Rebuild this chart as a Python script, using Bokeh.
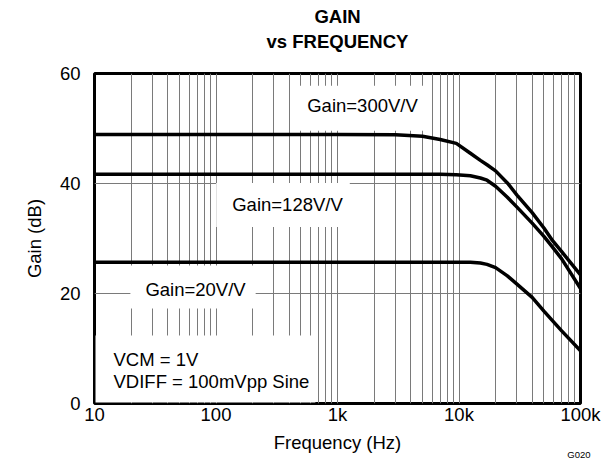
from bokeh.plotting import figure
from bokeh.models import FixedTicker, Label, Title, LogAxis
from bokeh.embed import file_html
from bokeh.resources import INLINE

# ---- data ----
freq_hz = [10, 100, 1000, 3000, 5000, 7000, 9500, 12400, 15000, 17000, 20000,
           25000, 30000, 40000, 50000, 58000, 70000, 100000]
gain_300 = [48.9, 48.9, 48.9, 48.85, 48.6, 48.0, 47.3, 45.5, 44.2, 43.4, 42.3,
            40.1, 37.9, 34.7, 31.9, 29.8, 27.6, 23.4]
gain_128 = [41.7, 41.7, 41.7, 41.7, 41.7, 41.7, 41.6, 41.4, 41.0, 40.6, 39.5,
            37.5, 35.7, 32.8, 30.4, 28.6, 26.3, 20.9]
gain_20 = [25.7, 25.7, 25.7, 25.7, 25.7, 25.7, 25.7, 25.7, 25.55, 25.3, 24.7,
           23.2, 21.7, 19.3, 16.8, 15.2, 13.2, 9.6]

x_ticks = [10, 100, 1000, 10000, 100000]
x_tick_labels = ["10", "100", "1k", "10k", "100k"]
x_minor = [m * 10 ** d for d in range(1, 5) for m in range(2, 10)]
y_ticks = [0, 20, 40, 60]

FONT = "Liberation Sans"
FS = "18.5px"
GRID = "#7a7a7a"

p = figure(width=613, height=459, x_axis_type="log",
           x_range=(10, 100000), y_range=(0, 60),
           output_backend="svg", toolbar_location=None, title=None,
           min_border_left=94, min_border_right=33,
           min_border_top=73, min_border_bottom=56)

p.background_fill_color = "white"
p.border_fill_color = "white"
p.outline_line_color = "black"
p.outline_line_width = 3

xa = p.xaxis[0]
ya = p.yaxis[0]

# axes
xt = FixedTicker(ticks=x_ticks, minor_ticks=x_minor)
xa.ticker = xt
p.xgrid.ticker = xt
xa.major_label_overrides = {t: l for t, l in zip(x_ticks, x_tick_labels)}
yt = FixedTicker(ticks=y_ticks)
ya.ticker = yt
p.ygrid.ticker = yt

def style_axis(ax):
    ax.axis_line_color = None
    ax.major_tick_line_color = None
    ax.minor_tick_line_color = None
    ax.major_tick_out = 0
    ax.major_tick_in = 0
    ax.minor_tick_out = 0
    ax.minor_tick_in = 0
    ax.major_label_text_font = FONT
    ax.major_label_text_font_size = FS
    ax.major_label_text_color = "black"
    ax.axis_label_text_font = FONT
    ax.axis_label_text_font_size = FS
    ax.axis_label_text_font_style = "normal"
    ax.axis_label_text_color = "black"

style_axis(xa)
style_axis(ya)

xa.axis_label = "Frequency (Hz)"
ya.axis_label = "Gain (dB)"
xa.major_label_standoff = 0
ya.major_label_standoff = 14
xa.axis_label_standoff = 4
ya.axis_label_standoff = 12

p.xgrid.grid_line_color = GRID
p.xgrid.minor_grid_line_color = GRID
p.xgrid.grid_line_width = 1
p.xgrid.minor_grid_line_width = 1
p.ygrid.grid_line_color = GRID
p.ygrid.grid_line_width = 1

# two-line chart title: second line as the label of a tick-less top axis,
# first line as a title above it
top = LogAxis(ticker=FixedTicker(ticks=[]), axis_label="vs FREQUENCY")
style_axis(top)
top.major_label_standoff = 0
top.axis_label_standoff = 22
top.axis_label_text_font_style = "bold"
p.add_layout(top, "above")

p.add_layout(Title(text="GAIN", align="center", text_font=FONT,
                   text_font_size=FS, text_font_style="bold",
                   text_color="black", standoff=1), "above")

# curves
for g in (gain_300, gain_128, gain_20):
    p.line(freq_hz, g, line_color="black", line_width=3.5)

# labels with white boxes (anchor refers to the padded box)
def box_label(x, y, text, pad, align="center", baseline="middle", xo=0, yo=0,
              lh=1.2):
    lab = Label(x=x, y=y, text=text, x_offset=xo, y_offset=yo,
                text_font=FONT, text_font_size=FS, text_color="black",
                text_align=align, text_baseline=baseline,
                background_fill_color="white", padding=pad,
                text_line_height=lh)
    p.add_layout(lab)

box_label(1591, 53.7, "Gain=300V/V", dict(left=11, right=10, top=9, bottom=15))
box_label(356, 36.1, "Gain=128V/V", dict(left=16, right=7, top=11, bottom=12))
box_label(64.7, 21.18, "Gain=20V/V", dict(left=15, right=10, top=13, bottom=9))
box_label(10, 0, "VCM = 1V\nVDIFF = 100mVpp Sine",
          dict(left=18, right=6, top=14, bottom=10),
          align="left", baseline="bottom", xo=1, yo=1, lh=1.05)

# figure code, pulled up beside the axis title
p.add_layout(Title(text="G020", align="right", offset=-10, standoff=-13,
                   vertical_align="top",
                   text_font=FONT, text_font_size="9.5px",
                   text_font_style="normal", text_color="black"), "below")

open("out.html", "w").write(file_html(p, INLINE))
